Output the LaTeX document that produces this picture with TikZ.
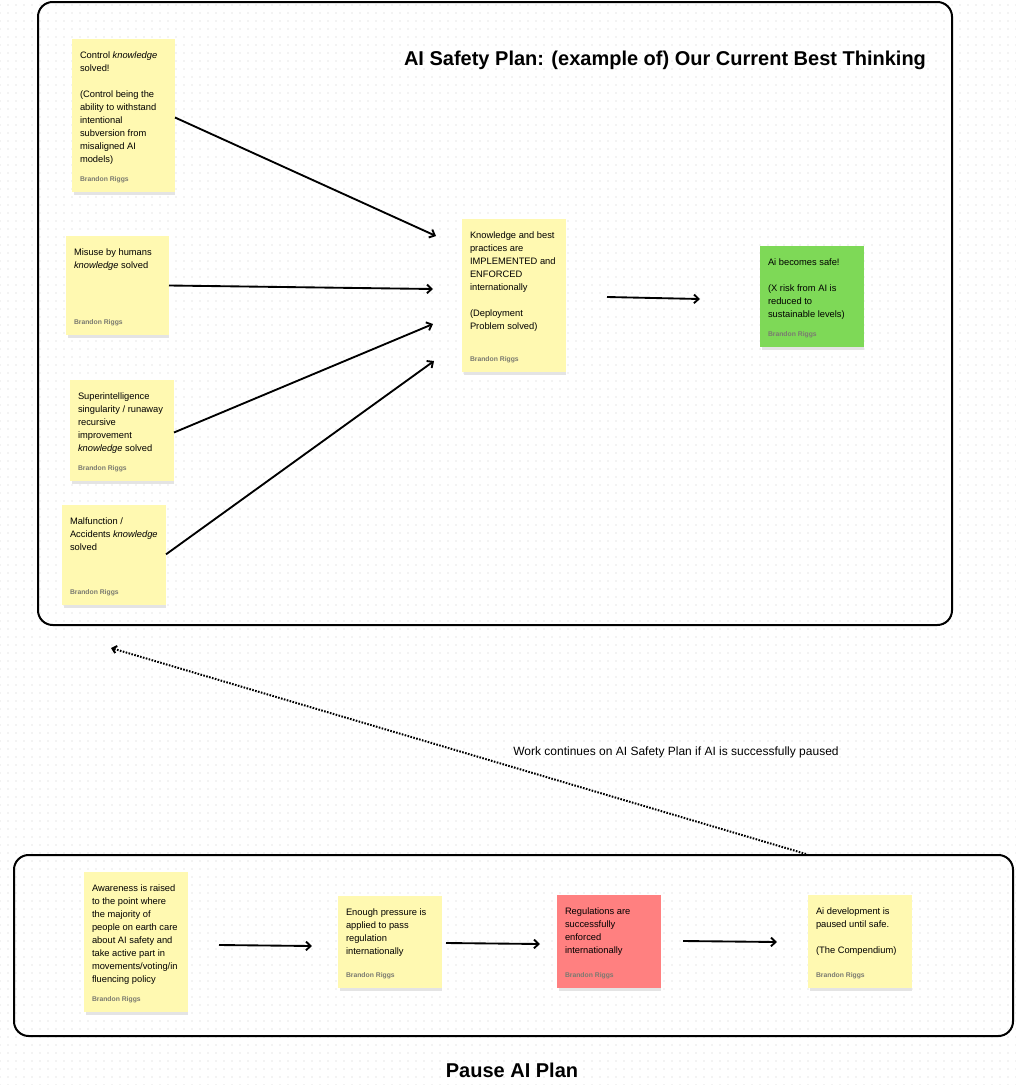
\documentclass[tikz,border=0pt]{standalone}
\usepackage{fontspec}
\setmainfont{Liberation Sans}
\usetikzlibrary{arrows.meta,patterns.meta}
\definecolor{stickyY}{HTML}{FFF9B1}
\definecolor{stickyG}{HTML}{7ED957}
\definecolor{stickyR}{HTML}{FF8080}
\definecolor{authorc}{HTML}{7A7A70}
\definecolor{shadowc}{HTML}{E4E4E4}
\tikzset{
  frame/.style={draw=black, line width=1.5pt, rounded corners=11pt},
  notebox/.style={draw=none, inner sep=0pt, outer sep=0pt, rectangle},
  notetext/.style={inner sep=0pt, outer sep=0pt, anchor=north west, align=left, font=\fontsize{7}{9.75}\selectfont},
  author/.style={inner sep=0pt, outer sep=0pt, anchor=base west, font=\bfseries\fontsize{5.1}{6}\selectfont, text=authorc},
  flow/.style={draw=black, line width=1.4pt, -{Straight Barb[length=3.5pt,width=6.5pt]}},
  dotflow/.style={draw=black, line width=1.5pt, dash pattern=on 1.2pt off 1.05pt, -{Straight Barb[length=3pt,width=5.5pt]}},
  titletext/.style={font=\bfseries\fontsize{15}{18}\selectfont, inner sep=0pt},
  labeltext/.style={font=\fontsize{9}{11}\selectfont, inner sep=0pt},
}
% name, x1, y1, x2, y2, colour
\newcommand\mksticky[6]{%
  \fill[shadowc] ({#2+2},{#5-2}) rectangle ({#4},{#5+3});
  \node[notebox, fill=#6, minimum width={(#4-#2)*0.75pt}, minimum height={(#5-#3)*0.75pt}] (#1) at ({(#2+#4)/2},{(#3+#5)/2}) {};
  \node[author] (#1-a) at ([xshift=6pt,yshift=8pt]#1.south west) {Brandon Riggs};
}
\newcommand\notetxt[2]{%
  \node[notetext] (#1-t) at ([xshift=6pt,yshift=-9.4pt]#1.north west) {#2};
}
\begin{document}
\begin{tikzpicture}[x=0.75pt,y=-0.75pt]
\useasboundingbox (0,0) rectangle (1016,1085);
\fill[white] (0,0) rectangle (1016,1085);
\fill[pattern={Dots[distance=6pt,radius=0.45pt]}, pattern color=black!20] (0,0) rectangle (1016,1085);

% frames
\draw[frame] (38,2) rectangle (952,625);
\draw[frame] (14,855) rectangle (1013,1036);

% titles
\node[titletext] (title) at (665,60) {AI Safety Plan: (example of) Our Current Best Thinking};
\node[titletext] (ptitle) at (512,1070) {Pause AI Plan};

% top stickies
\mksticky{n1}{72}{39}{175}{192}{stickyY}
\notetxt{n1}{Control \textit{knowledge}\\ solved!\\[9.75pt] (Control being the\\ ability to withstand\\ intentional\\ subversion from\\ misaligned AI\\ models)}

\mksticky{n2}{66}{236}{169}{335}{stickyY}
\notetxt{n2}{Misuse by humans\\ \textit{knowledge} solved}

\mksticky{n3}{70}{380}{174}{481}{stickyY}
\notetxt{n3}{Superintelligence\\ singularity / runaway\\ recursive\\ improvement\\ \textit{knowledge} solved}

\mksticky{n4}{62}{505}{166}{605}{stickyY}
\notetxt{n4}{Malfunction /\\ Accidents \textit{knowledge}\\ solved}

\mksticky{n5}{462}{219}{566}{372}{stickyY}
\notetxt{n5}{Knowledge and best\\ practices are\\ IMPLEMENTED and\\ ENFORCED\\ internationally\\[9.75pt] (Deployment\\ Problem solved)}

\mksticky{g}{760}{246}{864}{347}{stickyG}
\notetxt{g}{Ai becomes safe!\\[9.75pt] (X risk from AI is\\ reduced to\\ sustainable levels)}

% bottom stickies
\mksticky{p1}{84}{872}{188}{1012}{stickyY}
\notetxt{p1}{Awareness is raised\\ to the point where\\ the majority of\\ people on earth care\\ about AI safety and\\ take active part in\\ movements/voting/in\\ fluencing policy}

\mksticky{p2}{338}{896}{442}{988}{stickyY}
\notetxt{p2}{Enough pressure is\\ applied to pass\\ regulation\\ internationally}

\mksticky{p3}{557}{895}{661}{988}{stickyR}
\notetxt{p3}{Regulations are\\ successfully\\ enforced\\ internationally}

\mksticky{p4}{808}{895}{912}{988}{stickyY}
\notetxt{p4}{Ai development is\\ paused until safe.\\[9.75pt] (The Compendium)}

% connector end points
\coordinate (k1) at (436,236);
\coordinate (k2) at (433,289);
\coordinate (k3) at (433,324);
\coordinate (k4) at (434,361);
\coordinate (s5) at (607,297);
\coordinate (k5) at (700,299);
\coordinate (b1s) at (219,945);
\coordinate (b1e) at (312,946);
\coordinate (b2s) at (446,943);
\coordinate (b2e) at (540,944);
\coordinate (b3s) at (683,941);
\coordinate (b3e) at (777,942);
\coordinate (ds) at (806,854);
\coordinate (de) at (111,648);

% connectors
\draw[flow] ([yshift=-1.5pt]n1.east) -- (k1);
\draw[flow] ([yshift=0pt]n2.east) -- (k2);
\draw[flow] ([yshift=-1.5pt]n3.east) -- (k3);
\draw[flow] ([yshift=0.5pt]n4.east) -- (k4);
\draw[flow] (s5) -- (k5);
\draw[flow] (b1s) -- (b1e);
\draw[flow] (b2s) -- (b2e);
\draw[flow] (b3s) -- (b3e);
\draw[dotflow] (ds) -- (de);

\node[labeltext] (wlabel) at (676,752) {Work continues on AI Safety Plan if AI is successfully paused};
\end{tikzpicture}
\end{document}
